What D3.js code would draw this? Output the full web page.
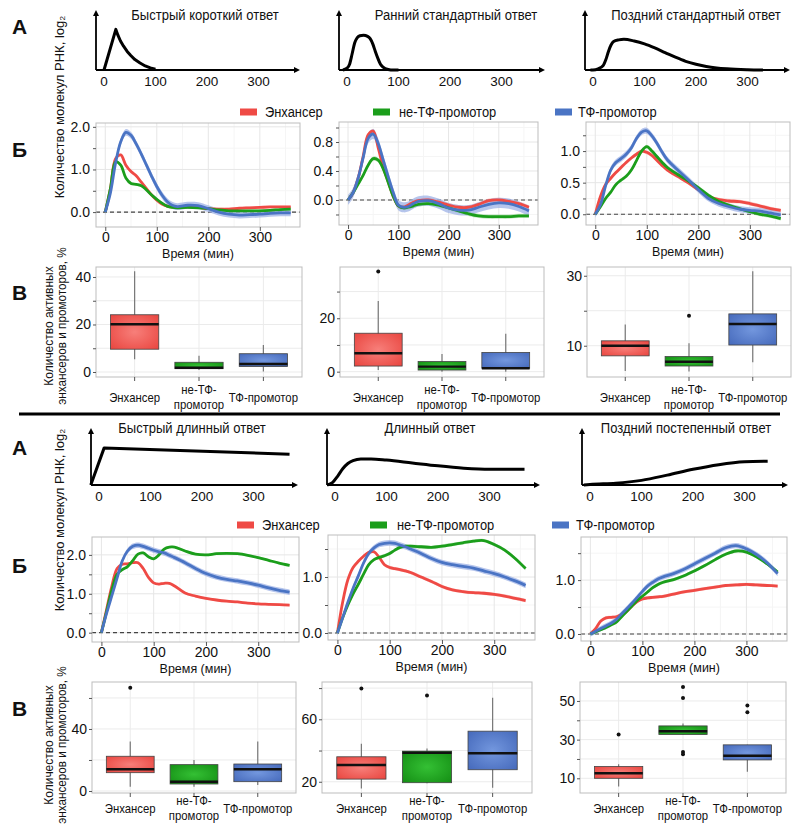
<!DOCTYPE html>
<html><head><meta charset="utf-8">
<script src="https://cdn.jsdelivr.net/npm/d3@7"></script>
<style>body{margin:0;background:#fff} text{font-family:"Liberation Sans",Arial,sans-serif;fill:#111}</style>
</head><body><svg id="c" width="800" height="831"></svg>
<script>
// ---------------- DATA ----------------
const times = [0,10,20,30,40,50,60,70,80,90,100,110,120,130,140,160,180,200,220,240,260,280,300,320,340,360];
const seriesNames = ["Энхансер","не-ТФ-промотор","ТФ-промотор"];
const boxCats = [["Энхансер"],["не-ТФ-","промотор"],["ТФ-промотор"]];
const xTicks = [0,100,200,300];
const topTitles = ["Быстрый короткий ответ","Ранний стандартный ответ","Поздний стандартный ответ"];
const bottomTitles = ["Быстрый длинный ответ","Длинный ответ","Поздний постепенный ответ"];

// schematic response shapes [time, relative level]
const schemaFastShort = [[0,0],[23,0.7],[27,0.6],[32,0.5],[38,0.41],[45,0.32],[52,0.25],[60,0.18],[70,0.12],[80,0.07],[90,0.035],[100,0.015]];
const schemaEarlyStd = [[-8,0],[0,0.03],[5,0.1],[10,0.28],[15,0.47],[20,0.56],[25,0.59],[32,0.6],[40,0.58],[45,0.54],[50,0.45],[55,0.32],[60,0.2],[65,0.1],[70,0.05],[80,0.01],[90,0],[100,0]];
const schemaLateStd = [[-5,0],[0,0],[10,0.02],[20,0.08],[25,0.18],[30,0.32],[35,0.43],[40,0.49],[50,0.52],[60,0.53],[80,0.5],[100,0.45],[120,0.38],[140,0.3],[160,0.22],[180,0.15],[200,0.1],[220,0.06],[240,0.035],[260,0.02],[300,0.005],[330,0]];
const schemaFastLong = [[-16,0],[10,0.64],[370,0.53]];
const schemaLong = [[-15,0],[-5,0.04],[5,0.15],[15,0.28],[25,0.37],[35,0.42],[50,0.45],[70,0.45],[100,0.43],[150,0.38],[200,0.33],[250,0.29],[300,0.27],[368,0.27]];
const schemaLateGrad = [[-12,0],[0,0.01],[50,0.03],[100,0.08],[150,0.17],[200,0.27],[250,0.35],[300,0.4],[345,0.41]];

// RNA level, log2 (Б)
const fastShortEnh   = [0,0.55,1.25,1.34,1.1,0.95,0.85,0.7,0.55,0.4,0.28,0.19,0.14,0.12,0.11,0.12,0.11,0.08,0.07,0.07,0.09,0.1,0.11,0.12,0.12,0.12];
const fastShortNonTF = [0,0.55,1.18,1.1,0.8,0.67,0.65,0.62,0.52,0.4,0.3,0.21,0.14,0.11,0.1,0.11,0.1,0.08,0.05,0.03,0.03,0.03,0.03,0.04,0.06,0.07];
const fastShortTF    = [0,0.45,1.15,1.65,1.87,1.8,1.6,1.36,1.1,0.84,0.6,0.4,0.25,0.16,0.13,0.16,0.15,0.08,0.0,-0.05,-0.07,-0.06,-0.05,-0.03,-0.02,-0.02];
const earlyStdEnh    = [0,0.1,0.3,0.6,0.9,0.95,0.72,0.45,0.25,0.05,-0.08,-0.1,-0.07,-0.03,-0.01,0.0,-0.03,-0.07,-0.1,-0.1,-0.06,-0.01,0.0,-0.02,-0.05,-0.1];
const earlyStdNonTF  = [0,0.1,0.22,0.34,0.48,0.57,0.55,0.43,0.24,0.05,-0.08,-0.11,-0.1,-0.08,-0.06,-0.05,-0.07,-0.11,-0.15,-0.19,-0.22,-0.23,-0.23,-0.23,-0.22,-0.22];
const earlyStdTF     = [0,0.1,0.3,0.58,0.85,0.91,0.78,0.55,0.32,0.1,-0.07,-0.1,-0.09,-0.05,-0.02,-0.01,-0.05,-0.11,-0.14,-0.14,-0.1,-0.06,-0.04,-0.05,-0.09,-0.15];
const lateStdEnh     = [0,0.28,0.47,0.57,0.66,0.74,0.82,0.89,0.95,1.0,0.98,0.93,0.85,0.77,0.7,0.6,0.5,0.39,0.28,0.23,0.21,0.2,0.17,0.13,0.09,0.06];
const lateStdNonTF   = [0,0.12,0.25,0.35,0.47,0.54,0.6,0.7,0.85,1.0,1.07,1.0,0.91,0.82,0.74,0.63,0.53,0.42,0.3,0.2,0.14,0.09,0.04,0.0,-0.03,-0.07];
const lateStdTF      = [0,0.15,0.45,0.7,0.82,0.88,0.95,1.05,1.2,1.3,1.32,1.24,1.12,0.98,0.86,0.7,0.55,0.39,0.25,0.17,0.12,0.08,0.06,0.05,0.02,-0.01];
const fastLongEnh    = [0,0.6,1.2,1.65,1.76,1.77,1.8,1.8,1.65,1.42,1.28,1.25,1.27,1.27,1.2,1.02,0.94,0.88,0.84,0.81,0.79,0.76,0.74,0.73,0.72,0.71];
const fastLongNonTF  = [0,0.55,1.1,1.5,1.62,1.7,1.85,2.02,2.05,1.95,1.9,2.0,2.15,2.2,2.2,2.1,2.02,2.0,2.03,2.04,2.03,1.99,1.93,1.86,1.79,1.73];
const fastLongTF     = [0,0.5,0.95,1.4,1.85,2.1,2.22,2.25,2.22,2.17,2.12,2.08,2.05,1.99,1.93,1.8,1.65,1.52,1.43,1.37,1.33,1.28,1.22,1.15,1.09,1.04];
const longEnh        = [0,0.55,0.95,1.17,1.28,1.37,1.44,1.45,1.35,1.22,1.17,1.15,1.13,1.11,1.08,1.0,0.92,0.83,0.77,0.74,0.72,0.71,0.69,0.66,0.62,0.58];
const longNonTF      = [0,0.27,0.5,0.7,0.87,1.05,1.22,1.31,1.35,1.38,1.42,1.48,1.53,1.55,1.55,1.54,1.53,1.55,1.58,1.61,1.64,1.65,1.58,1.48,1.33,1.15];
const longTF         = [0,0.27,0.55,0.8,1.02,1.25,1.42,1.52,1.58,1.6,1.61,1.6,1.57,1.54,1.5,1.42,1.33,1.26,1.22,1.19,1.16,1.11,1.06,1.0,0.93,0.85];
const lateGradEnh    = [0,0.1,0.24,0.3,0.31,0.32,0.36,0.42,0.52,0.6,0.65,0.67,0.68,0.69,0.7,0.74,0.78,0.81,0.84,0.87,0.9,0.91,0.92,0.91,0.9,0.89];
const lateGradNonTF  = [0,0.04,0.08,0.12,0.17,0.22,0.32,0.42,0.52,0.62,0.7,0.78,0.86,0.92,0.96,1.01,1.08,1.17,1.27,1.38,1.48,1.54,1.52,1.43,1.3,1.15];
const lateGradTF     = [0,0.05,0.1,0.15,0.2,0.27,0.37,0.47,0.57,0.68,0.79,0.89,0.96,1.02,1.06,1.12,1.2,1.3,1.4,1.5,1.6,1.64,1.58,1.47,1.32,1.12];

// box stats [lower whisker, Q1, median, Q3, upper whisker] per category, % active
const boxFastShort = [[5.4,9.6,20.1,24.1,42.4],[0.8,1.4,1.8,4.1,6.8],[0.2,2.3,3.4,7.7,11.4]];
const outFastShort = [[],[],[]];
const boxEarlyStd  = [[0.6,2.1,6.9,14.4,26.5],[0,0.6,1.9,3.8,6.6],[0,1.3,1.3,7.2,14.2]];
const outEarlyStd  = [[37.5],[],[]];
const boxLateStd   = [[2.8,7.1,10,11.4,16.1],[2.6,4.2,5.4,6.9,10.7],[5.3,10.2,16.2,19.1,31.3]];
const outLateStd   = [[],[18.6],[]];
const boxFastLong  = [[2.8,11.8,14,22.4,32],[2.8,4.5,6,17,20],[3.9,6,14,17.4,32]];
const outFastLong  = [[66.6],[],[]];
const boxLong      = [[15.7,21.7,30.7,36,44.3],[19,19.4,38.6,39.6,41.3],[16.2,27.7,38.3,52.4,73.8]];
const outLong      = [[79.8],[75.3],[]];
const boxLateGrad  = [[5.7,10,12.6,16.1,17.3],[32.6,32.6,34.3,37.1,38.3],[13.4,19.5,21.7,27.3,27.3]];
const outLateGrad  = [[32.7],[57.2,51.5,23.6,22.5],[47.7,44.1]];

// ---------------- DRAW ----------------
const svg = d3.select("#c");
const COL = ["#ef4a45","#1b9e1b","#4a74c4"];
const RIB = ["#f5a09c","#8fd08f","#9db2e6"];
const defs = svg.append("defs");
[["g0","#f77f7a","#e9453f"],["g1","#34c034","#148e14"],["g2","#7397de","#4569bb"]].forEach(([id,c0,c1])=>{
  const rg = defs.append("radialGradient").attr("id",id).attr("cx","50%").attr("cy","50%").attr("r","70%");
  rg.append("stop").attr("offset","0%").attr("stop-color",c0);
  rg.append("stop").attr("offset","100%").attr("stop-color",c1);
});

function txt(g,x,y,s,o={}){
  const t=g.append("text").attr("x",x).attr("y",y).text(s)
    .attr("font-size",o.size||14).attr("text-anchor",o.anchor||"start");
  if(o.weight) t.attr("font-weight",o.weight);
  if(o.rot) t.attr("transform",`rotate(${o.rot},${x},${y})`);
  if(o.sq && o.sq!==1){
    const w=t.node().getComputedTextLength();
    t.attr("textLength",w*o.sq).attr("lengthAdjust","spacingAndGlyphs");
  }
  return t;
}

// Panel letters
[["А",12,34],["Б",12,157],["В",12,300],["А",12,455],["Б",12,573],["В",12,716]].forEach(([s,x,y])=>txt(svg,x,y,s,{size:21,weight:"bold"}));

// separator
svg.append("line").attr("x1",19).attr("x2",780).attr("y1",414).attr("y2",414).attr("stroke","#000").attr("stroke-width",3);

// ---- schematic panels ----
function schema(data, ax, base, top, right, title, tx, ty, curve){
  const g=svg.append("g");
  const x=d3.scaleLinear().domain([0,100]).range([ax+8,ax+8+51.5]);
  const y=d3.scaleLinear().domain([0,1]).range([base,base-58]);
  g.append("line").attr("x1",ax).attr("x2",ax).attr("y1",base).attr("y2",top+5).attr("stroke","#000").attr("stroke-width",1.8);
  g.append("path").attr("d",`M${ax-3},${top+6}L${ax},${top}L${ax+3},${top+6}Z`).attr("fill","#000");
  g.append("line").attr("x1",ax).attr("x2",right-5).attr("y1",base).attr("y2",base).attr("stroke","#000").attr("stroke-width",1.8);
  g.append("path").attr("d",`M${right-6},${base-3}L${right},${base}L${right-6},${base+3}Z`).attr("fill","#000");
  xTicks.forEach(v=>txt(g,x(v),base+16,String(v),{size:13.5,anchor:"middle"}));
  txt(g,tx,ty,title,{size:14,anchor:"middle",sq:0.93});
  g.append("path").datum(data).attr("fill","none").attr("stroke","#000").attr("stroke-width",3).attr("stroke-linejoin","round")
    .attr("d",d3.line().x(d=>x(d[0])).y(d=>y(d[1])).curve(curve));
}
schema(schemaFastShort,96,70,10,300,topTitles[0],205,20,d3.curveLinear);
schema(schemaEarlyStd,339,70,10,545,topTitles[1],456,20,d3.curveMonotoneX);
schema(schemaLateStd,585,70,10,790,topTitles[2],696,20,d3.curveMonotoneX);
schema(schemaFastLong,91,485,428,298,bottomTitles[0],192,433,d3.curveLinear);
schema(schemaLong,327,485,428,540,bottomTitles[1],430,433,d3.curveMonotoneX);
schema(schemaLateGrad,582,485,428,788,bottomTitles[2],686,433,d3.curveMonotoneX);

// ---- line panels ----
function linePanel(series, box, yDom, yTicks, yLabels, fmt, se){
  const [l,r,t,b]=box;
  const g=svg.append("g");
  const x=d3.scaleLinear().domain([-18,378]).range([l,r]);
  const y=d3.scaleLinear().domain(yDom).range([b,t]);
  g.append("rect").attr("x",l).attr("y",t).attr("width",r-l).attr("height",b-t).attr("fill","#fff");
  const minorX=[50,150,250,350];
  const minorY=[];
  for(let i=0;i<yTicks.length-1;i++) minorY.push((yTicks[i]+yTicks[i+1])/2);
  minorY.push(yTicks[0]-(yTicks[1]-yTicks[0])/2); minorY.push(yTicks[yTicks.length-1]+(yTicks[1]-yTicks[0])/2);
  minorX.forEach(v=>g.append("line").attr("x1",x(v)).attr("x2",x(v)).attr("y1",t).attr("y2",b).attr("stroke","#f5f5f5"));
  minorY.filter(v=>y(v)>t&&y(v)<b).forEach(v=>g.append("line").attr("x1",l).attr("x2",r).attr("y1",y(v)).attr("y2",y(v)).attr("stroke","#f5f5f5"));
  xTicks.forEach(v=>g.append("line").attr("x1",x(v)).attr("x2",x(v)).attr("y1",t).attr("y2",b).attr("stroke","#e6e6e6"));
  yTicks.forEach(v=>g.append("line").attr("x1",l).attr("x2",r).attr("y1",y(v)).attr("y2",y(v)).attr("stroke","#e6e6e6"));
  g.append("line").attr("x1",l).attr("x2",r).attr("y1",y(0)).attr("y2",y(0)).attr("stroke","#444").attr("stroke-width",1.2).attr("stroke-dasharray","4,3");
  series.forEach((s,i)=>{
    const pts=times.map((tt,k)=>[tt,s[k]]);
    g.append("path").datum(pts).attr("fill",RIB[i]).attr("opacity",i===2?0.75:0.55)
      .attr("d",d3.area().x(d=>x(d[0])).y0(d=>y(d[1]-se[i])).y1(d=>y(d[1]+se[i])).curve(d3.curveCatmullRom));
  });
  series.forEach((s,i)=>{
    const pts=times.map((tt,k)=>[tt,s[k]]);
    g.append("path").datum(pts).attr("fill","none").attr("stroke",COL[i]).attr("stroke-width",2.8)
      .attr("d",d3.line().x(d=>x(d[0])).y(d=>y(d[1])).curve(d3.curveCatmullRom));
  });
  g.append("rect").attr("x",l).attr("y",t).attr("width",r-l).attr("height",b-t).attr("fill","none").attr("stroke","#bdbdbd");
  const ax=g.append("g").attr("transform",`translate(0,${b})`).call(d3.axisBottom(x).tickValues(xTicks).tickSize(4).tickPadding(1));
  const ay=g.append("g").attr("transform",`translate(${l},0)`).call(d3.axisLeft(y).tickValues(yTicks.concat(minorY.filter(v=>y(v)>t&&y(v)<b))).tickSize(3).tickPadding(3)
      .tickFormat(d=>yLabels.includes(d)?fmt(d):""));
  [ax,ay].forEach(a=>{a.select(".domain").remove();a.selectAll("line").attr("stroke","#555");a.selectAll("text").attr("font-size",14).attr("fill","#111").style("font-family",'"Liberation Sans",Arial,sans-serif');});
  txt(g,(l+r)/2,b+31,"Время (мин)",{size:12.5,anchor:"middle"});
}
const f1=d3.format(".1f");
linePanel([fastShortEnh,fastShortNonTF,fastShortTF],[96,300,123,227],[-0.35,2.09],[0,1,2],[0,1,2],f1,[0.03,0.03,0.08]);
linePanel([earlyStdEnh,earlyStdNonTF,earlyStdTF],[339,538,122,225],[-0.345,1.076],[0,0.4,0.8],[0,0.4,0.8],f1,[0.03,0.03,0.07]);
linePanel([lateStdEnh,lateStdNonTF,lateStdTF],[586,790,122,225],[-0.17,1.46],[0,0.5,1],[0,0.5,1],f1,[0.03,0.03,0.05]);
linePanel([fastLongEnh,fastLongNonTF,fastLongTF],[92,299,537,642],[-0.24,2.46],[0,1,2],[0,1,2],f1,[0.03,0.03,0.07]);
linePanel([longEnh,longNonTF,longTF],[328,535,535,640],[-0.125,1.75],[0,1],[0,1],f1,[0.03,0.03,0.05]);
linePanel([lateGradEnh,lateGradNonTF,lateGradTF],[581,787,537,641],[-0.13,1.8],[0,1],[0,1],f1,[0.03,0.03,0.05]);

// y titles
txt(svg,64,107,"Количество молекул РНК, log₂",{size:13,anchor:"middle",rot:-90});
txt(svg,64,520,"Количество молекул РНК, log₂",{size:13,anchor:"middle",rot:-90});
[[326],[745]].forEach(([cy])=>{
  txt(svg,53,cy,"Количество активных",{size:13,anchor:"middle",rot:-90,sq:0.92});
  txt(svg,66,cy,"энхансеров и промоторов, %",{size:13,anchor:"middle",rot:-90,sq:0.9});
});

// legends
function legend(y, items){
  items.forEach(([x0,tx],i)=>{
    svg.append("rect").attr("x",x0).attr("y",y-3.5).attr("width",17).attr("height",7).attr("fill",COL[i]);
    txt(svg,tx,y+5,seriesNames[i],{size:14,sq:0.92});
  });
}
legend(112,[[240,265],[373,399],[555,578]]);
legend(525,[[237,262],[370,397],[552,576]]);

// ---- box panels ----
function boxPanel(stats, outs, box, yDom, yTicks, yLabels, labY){
  const [l,r,t,b]=box;
  const g=svg.append("g");
  const step=(r-l)/3.2;
  const cx=i=>l+0.6*step+i*step;
  const y=d3.scaleLinear().domain(yDom).range([b,t]);
  g.append("rect").attr("x",l).attr("y",t).attr("width",r-l).attr("height",b-t).attr("fill","#fff");
  yTicks.forEach(v=>g.append("line").attr("x1",l).attr("x2",r).attr("y1",y(v)).attr("y2",y(v)).attr("stroke","#ebebeb"));
  [0,1,2].forEach(i=>g.append("line").attr("x1",cx(i)).attr("x2",cx(i)).attr("y1",t).attr("y2",b).attr("stroke","#ebebeb"));
  const bw=step*0.75;
  stats.forEach((s,i)=>{
    const c=cx(i);
    g.append("line").attr("x1",c).attr("x2",c).attr("y1",y(s[0])).attr("y2",y(s[4])).attr("stroke","#777").attr("stroke-width",1.2);
    g.append("rect").attr("x",c-bw/2).attr("y",y(s[3])).attr("width",bw).attr("height",Math.max(1,y(s[1])-y(s[3])))
      .attr("fill",`url(#g${i})`).attr("stroke","#444").attr("stroke-width",0.8);
    g.append("line").attr("x1",c-bw/2).attr("x2",c+bw/2).attr("y1",y(s[2])).attr("y2",y(s[2])).attr("stroke","#111").attr("stroke-width",2.4);
    outs[i].forEach(v=>g.append("circle").attr("cx",c).attr("cy",y(v)).attr("r",2).attr("fill","#111"));
  });
  g.append("rect").attr("x",l).attr("y",t).attr("width",r-l).attr("height",b-t).attr("fill","none").attr("stroke","#bdbdbd");
  const ay=g.append("g").attr("transform",`translate(${l},0)`).call(d3.axisLeft(y).tickValues(yTicks).tickSize(3).tickPadding(2)
    .tickFormat(d=>yLabels.includes(d)?String(d):""));
  ay.select(".domain").remove(); ay.selectAll("line").attr("stroke","#555");
  ay.selectAll("text").attr("font-size",14).attr("fill","#111").style("font-family",'"Liberation Sans",Arial,sans-serif');
  [0,1,2].forEach(i=>{
    g.append("line").attr("x1",cx(i)).attr("x2",cx(i)).attr("y1",b).attr("y2",b+4).attr("stroke","#555");
    const lines=boxCats[i];
    if(lines.length===1) txt(g,cx(i),labY+5,lines[0],{size:13.5,anchor:"middle",sq:0.84});
    else { txt(g,cx(i),labY-3,lines[0],{size:13.5,anchor:"middle",sq:0.84}); txt(g,cx(i),labY+12,lines[1],{size:13.5,anchor:"middle",sq:0.84}); }
  });
}
boxPanel(boxFastShort,outFastShort,[96,302,267,377],[-2.1,44.2],[0,10,20,30,40],[0,20,40],397);
boxPanel(boxEarlyStd,outEarlyStd,[340,544,267,377],[-2.0,39.2],[0,10,20,30],[0,20],397);
boxPanel(boxLateStd,outLateStd,[587,791,267,377],[1.06,32.5],[10,20,30],[10,30],397);
boxPanel(boxFastLong,outFastLong,[92,296,682,793],[-1.3,70.3],[0,20,40,60],[0,40],808);
boxPanel(boxLong,outLong,[322,532,682,793],[12.8,83.9],[20,40,60,80],[20,60],808);
boxPanel(boxLateGrad,outLateGrad,[580,786,682,793],[2.4,59.8],[10,20,30,40,50],[10,30,50],808);
</script></body></html>
